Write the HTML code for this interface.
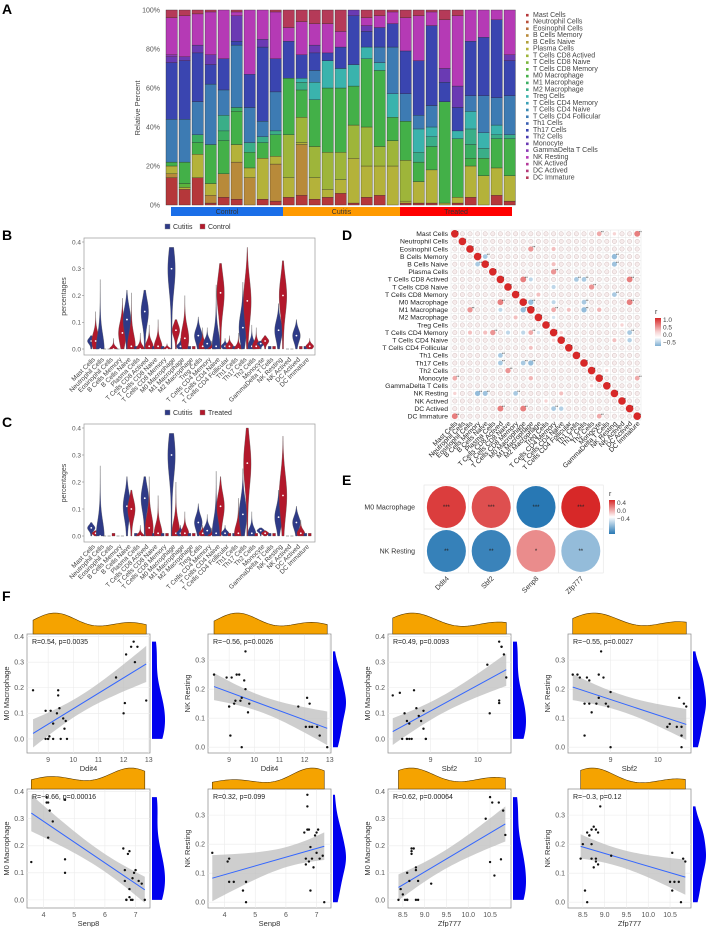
<!DOCTYPE html>
<html><head><meta charset="utf-8"><style>
html,body{margin:0;padding:0;background:#fff;width:708px;height:927px;overflow:hidden}
svg{display:block;font-family:"Liberation Sans",sans-serif}
</style></head><body>
<svg id="fig" width="708" height="927" viewBox="0 0 708 927">
<text x="2" y="14" font-size="14" font-weight="bold">A</text>
<text x="2" y="240" font-size="14" font-weight="bold">B</text>
<text x="2" y="427" font-size="14" font-weight="bold">C</text>
<text x="342" y="240" font-size="14" font-weight="bold">D</text>
<text x="342" y="485" font-size="14" font-weight="bold">E</text>
<text x="2" y="601" font-size="14" font-weight="bold">F</text>
</svg>
<script>
// ---------- DATA ----------
const cellTypes=["Mast Cells","Neutrophil Cells","Eosinophil Cells","B Cells Memory","B Cells Naive","Plasma Cells","T Cells CD8 Actived","T Cells CD8 Naive","T Cells CD8 Memory","M0 Macrophage","M1 Macrophage","M2 Macrophage","Treg Cells","T Cells CD4 Memory","T Cells CD4 Naive","T Cells CD4 Follicular","Th1 Cells","Th17 Cells","Th2 Cells","Monocyte","GammaDelta T Cells","NK Resting","NK Actived","DC Actived","DC Immature"];
const cellColors=["#b5373a","#b8503a","#b5703a","#b88a3a","#b0a03a","#b4b23a","#9eb53a","#7ab53a","#5cb33c","#43b048","#3aae62","#3aae88","#3ab3ad","#3aa0b5","#3a8ab5","#3d7bb3","#3a5fb2","#3a45b0","#483ab0","#6a3ab3","#8a3ab5","#b53ab5","#b53a9a","#b53a7a","#b53a58"];
const groupNames=["Control","Cutitis","Treated"];
const groupSizes=[9,9,9];
const yTicksA=["0%","20%","40%","60%","80%","100%"];
const barValues=[
[14,0,0,2,0,4,0,0,0,2,0,0,0,0,0,22,0,29,0,3,1,19,0,0,4],
[8,0,0,0,0,1,0,0,2,11,0,0,0,0,0,22,0,30,0,2,0,21,0,0,3],
[14,0,0,0,0,12,0,0,0,6,4,0,0,0,0,17,0,25,0,4,0,16,0,0,2],
[1,0,0,4,0,6,0,0,0,20,0,0,0,0,0,31,0,10,0,5,0,22,0,0,1],
[4,0,0,12,0,0,0,0,0,17,5,8,0,0,0,13,0,16,0,0,0,25,0,0,0],
[3,0,0,19,0,9,0,0,0,17,2,0,0,0,0,32,0,2,0,13,0,2,0,0,1],
[0,0,0,14,0,5,0,0,0,8,0,5,0,0,0,18,0,17,0,0,0,33,0,0,0],
[3,0,0,0,0,21,0,0,0,8,0,3,0,0,0,8,0,38,0,4,0,15,0,0,0],
[2,0,0,19,0,4,0,0,0,11,0,2,0,0,0,20,0,17,0,0,0,24,0,0,1],
[4,0,0,0,0,10,22,0,0,29,0,0,0,0,0,0,0,19,0,0,0,7,0,0,9],
[5,0,0,26,0,1,13,0,0,14,0,4,2,0,0,0,0,12,0,0,0,17,0,0,6],
[3,0,0,0,0,11,16,0,0,24,0,0,9,0,0,6,0,9,0,4,0,11,0,0,7],
[4,0,0,0,0,4,19,0,0,33,0,0,14,0,0,0,0,4,0,0,0,15,0,0,7],
[6,0,0,0,0,7,14,0,0,33,0,0,10,0,0,0,0,11,0,0,0,8,0,0,11],
[1,0,0,0,0,23,17,0,0,20,0,0,11,0,0,0,0,25,0,3,0,0,0,0,0],
[4,0,0,0,0,16,20,0,0,35,0,0,6,0,0,0,0,8,0,3,0,4,0,0,4],
[5,0,0,0,0,15,10,0,0,39,0,0,4,0,0,8,0,10,0,0,0,6,0,0,3],
[0,0,0,0,0,20,13,0,0,12,0,0,12,0,0,24,0,12,0,0,0,6,0,0,1],
[1,0,0,0,0,1,21,0,0,20,0,0,0,0,0,14,0,22,0,0,0,17,0,0,4],
[1,0,0,0,0,11,0,0,0,10,0,5,12,0,0,7,0,28,0,0,0,23,0,0,3],
[1,0,0,0,0,17,0,0,0,12,0,5,5,0,0,11,0,41,0,0,0,7,0,0,1],
[0,0,0,0,0,1,0,0,0,52,0,0,0,0,0,0,0,10,0,7,0,25,0,0,5],
[1,0,0,0,0,3,0,0,0,30,0,0,4,0,0,0,0,12,0,11,0,36,0,0,3],
[4,0,0,0,0,16,0,0,0,4,7,8,9,0,0,8,0,28,0,0,0,16,0,0,0],
[0,0,0,0,0,15,0,0,0,9,0,5,8,0,0,19,0,30,0,0,0,14,0,0,0],
[5,0,0,0,0,14,0,0,0,15,0,2,5,0,0,14,0,40,0,0,0,5,0,0,0],
[2,0,0,0,0,13,0,0,0,19,0,2,0,0,0,20,0,18,0,3,0,23,0,0,0]];
const cutitisMax=[0.05,0.26,0,0,0.22,0.01,0.22,0.01,0.01,0.38,0.04,0.01,0.12,0.08,0.24,0.04,0.01,0.25,0.09,0.03,0.01,0.17,0,0.11,0.01];
const cutitisMed=[0.03,0,0,0,0.11,0,0.14,0,0,0.30,0.01,0,0.05,0.02,0.01,0.01,0,0.08,0.01,0.02,0,0.07,0,0.05,0];
const controlMax=[0.14,0,0.04,0.19,0.21,0.06,0.09,0.11,0.02,0.11,0.20,0.01,0.08,0.03,0.32,0.05,0.06,0.38,0.08,0.05,0.01,0.33,0,0.01,0.04];
const controlMed=[0.03,0,0,0.06,0.01,0,0.01,0.01,0,0.07,0.04,0,0.01,0,0.21,0.01,0,0.18,0.01,0.03,0,0.20,0,0,0.01];
const treatedMax=[0.02,0,0.01,0,0.17,0.04,0.22,0.15,0.01,0.20,0.09,0.01,0.04,0.03,0.22,0.01,0.14,0.40,0.01,0.02,0.01,0.37,0,0.06,0.01];
const treatedMed=[0.01,0,0,0,0.10,0,0.03,0.01,0,0.01,0.01,0,0.01,0,0.11,0,0.01,0.27,0,0.01,0,0.15,0,0.01,0];
const violinTicks=[0,0.1,0.2,0.3,0.4];
const corrPairs=[[0,24,0.6],[0,19,0.4],[0,21,0.2],[2,10,0.5],[2,13,0.3],[3,4,-0.4],[4,21,-0.45],[4,13,0.3],[5,13,0.5],[6,9,0.6],[6,23,0.6],[6,16,-0.4],[6,10,-0.3],[7,18,0.5],[7,13,-0.3],[8,21,-0.4],[8,11,0.3],[9,10,-0.5],[9,23,0.6],[9,17,-0.4],[9,13,-0.3],[10,13,0.4],[10,19,0.35],[11,13,-0.2],[13,14,0.2],[14,21,0.3],[14,23,-0.35],[10,17,-0.5],[6,17,-0.4],[3,21,-0.5],[13,23,-0.4],[15,10,0.3],[18,20,0.2],[19,24,0.4],[12,22,0.2]];
const corrBackground=0.12;
const geneNames=["Ddit4","Sbf2","Senp8","Zfp777"];
const eRows=["M0 Macrophage","NK Resting"];
const eM0=[0.54,0.49,-0.66,0.62];
const eNK=[-0.56,-0.55,0.32,-0.30];
const eM0Stars=["***","***","***","***"];
const eNKStars=["**","**","*","**"];
const ddit4X=[8.4,8.9,8.9,9,9.05,9.1,9.2,9.2,9.4,9.4,9.45,9.5,9.6,9.65,9.7,9.75,11.7,12,12.05,12.1,12.3,12.4,12.45,12.55,12.9,9.0,9.35];
const ddit4M0=[0.19,0.11,0,0,0.01,0.11,0.06,0,0.19,0.17,0.12,0,0.08,0.04,0.07,0,0.24,0.1,0.14,0.33,0.36,0.38,0.3,0.36,0.15,0,0.1];
const ddit4X2=[8.4,8.9,9,9.05,9.1,9.2,9.25,9.4,9.45,9.5,9.5,9.6,9.65,9.65,9.75,9.8,11.75,12.05,12.1,12.2,12.3,12.5,12.6,12.9,9.0,9.3,12.2];
const ddit4NK=[0.25,0.24,0.14,0.04,0.24,0.15,0.16,0.25,0.16,0,0.17,0.23,0.33,0.2,0.12,0.15,0.14,0.07,0.17,0.15,0.07,0.07,0.04,0,0.14,0.25,0.07];
const sbf2X=[8.2,8.35,8.4,8.5,8.5,8.55,8.6,8.65,8.7,8.75,8.8,8.85,8.85,8.9,8.9,8.45,8.5,10.2,10.25,10.45,10.45,10.45,10.5,10.5,10.55,10.6,8.55];
const sbf2M0=[0.17,0.18,0,0.07,0,0.06,0,0.19,0.12,0.09,0.07,0.11,0.04,0,0,0.1,0,0.29,0.1,0.15,0.14,0.38,0.36,0.36,0.33,0.24,0];
const sbf2X2=[8.2,8.35,8.45,8.45,8.5,8.55,8.55,8.6,8.7,8.75,8.75,8.8,8.85,8.9,8.95,9.0,9.0,10.2,10.25,10.45,10.5,10.5,10.5,10.55,10.6,8.3,10.4];
const sbf2NK=[0.25,0.24,0.15,0.04,0.24,0.23,0.15,0.12,0.15,0.25,0.17,0.33,0.24,0.15,0.14,0.19,0,0.07,0.08,0.17,0.07,0.04,0,0.15,0.14,0.25,0.07];
const senp8X=[3.6,4.1,4.1,4.15,4.2,4.3,4.15,4.7,4.7,4.7,6.6,6.65,6.65,6.7,6.75,6.8,6.8,6.8,6.9,6.9,6.95,7.0,7.1,7.2,7.3,6.7,6.85];
const senp8M0=[0.14,0.38,0.36,0.36,0.33,0.29,0.23,0.15,0.1,0.37,0.19,0.07,0.11,0,0.17,0.18,0.04,0.01,0,0.08,0.1,0.11,0.07,0.06,0,0,0];
const senp8X2=[3.6,4.1,4.15,4.15,4.3,4.6,4.7,4.7,6.6,6.65,6.7,6.7,6.7,6.75,6.75,6.8,6.8,6.85,6.9,6.95,7.0,7.05,7.1,7.2,7.25,6.65,7.0];
const senp8NK=[0.17,0.14,0.15,0.07,0.07,0.04,0,0.07,0.24,0.15,0.37,0.33,0.25,0.25,0.14,0.04,0.19,0.15,0.12,0.23,0.24,0.25,0.15,0.16,0,0.13,0.17];
const zfpX=[8.4,8.45,8.5,8.55,8.6,8.6,8.65,8.7,8.7,8.7,8.75,8.8,8.8,8.85,8.8,9.15,10.4,10.5,10.5,10.55,10.6,10.7,10.75,10.8,10.85,8.85,8.6];
const zfpM0=[0,0.04,0.02,0,0.1,0,0.07,0.17,0.18,0.19,0.19,0.12,0,0.07,0.11,0.06,0.3,0.38,0.14,0.36,0.09,0.36,0.15,0.33,0.24,0,0];
const zfpX2=[8.45,8.5,8.55,8.6,8.6,8.65,8.7,8.7,8.75,8.75,8.8,8.8,8.85,8.85,8.9,9.15,10.5,10.55,10.55,10.6,10.7,10.75,10.8,10.85,8.7,8.8,8.65];
const zfpNK=[0.15,0.2,0.04,0,0.24,0.23,0.25,0.15,0.26,0.12,0.25,0.14,0.24,0.13,0.33,0.16,0.07,0.04,0.17,0.07,0.07,0,0.15,0.14,0.2,0.15,0.23];
const statLabels=["R=0.54, p=0.0035","R=\u22120.56, p=0.0026","R=0.49, p=0.0093","R=\u22120.55, p=0.0027","R=\u22120.66, p=0.00016","R=0.32, p=0.099","R=0.62, p=0.00064","R=\u22120.3, p=0.12"];

// ---------- HELPERS ----------
const svg=document.getElementById('fig');
const NS='http://www.w3.org/2000/svg';
function mk(tag,attrs,parent){const e=document.createElementNS(NS,tag);for(const k in attrs)e.setAttribute(k,attrs[k]);(parent||svg).appendChild(e);return e;}
function txt(x,y,s,size,parent,extra){const t=mk('text',Object.assign({x:x,y:y,'font-size':size,fill:'#333'},extra||{}),parent);t.textContent=s;return t;}
function lin(d0,d1,r0,r1){return v=>r0+(v-d0)/(d1-d0)*(r1-r0);}

// ---------- PANEL A ----------
(function(){
const g=mk('g',{});


const y=lin(0,100,205,10);
const x0=166,step=13.0,bw=11.4;
yTicksA.forEach((t,i)=>{const e=txt(160,y(i*20)+2.5,t,7,g,{'text-anchor':'end',fill:'#555'});

});
const yl=txt(0,0,'Relative Percent',7.5,g,{transform:'translate(140,108) rotate(-90)','text-anchor':'middle',fill:'#444'});


barValues.forEach((row,i)=>{
 const tot=row.reduce((a,b)=>a+b,0);let acc=0;
 const bg=mk('g',{},g);
 
 
 mk('rect',{x:x0+i*step,y:10,width:bw,height:195,fill:'#fff',stroke:'#ccc','stroke-width':0.4},bg);
 row.forEach((v,k)=>{ if(v<=0)return; const yy0=y(acc/tot*100); acc+=v; const yy1=y(acc/tot*100);
  const r=mk('rect',{x:x0+i*step,y:yy1,width:bw,height:yy0-yy1,fill:cellColors[k],stroke:'#222','stroke-width':0.3},bg);
  
  });
});
const gcol=["#1a6ee8","#ff9a00","#ff0000"];let start=0;
groupNames.forEach((n,i)=>{const xa=x0+start*step+5,xb=x0+(start+groupSizes[i])*step+(i==2?-5:0);start+=groupSizes[i];
 const rx=i==0?171:xa-5, rw=i==0?xb-171:xb-xa+5;
 const r=mk('rect',{x:rx,y:207,width:rw,height:9,fill:gcol[i]},g);
 
 
 const t=txt(rx+rw/2,214,n,7,g,{'text-anchor':'middle',fill:'#333'});
 
 });
cellTypes.forEach((n,k)=>{const yy=16.5+k*6.77;
 const s=mk('rect',{x:526,y:yy-2.6,width:2.6,height:2.6,fill:cellColors[k]},g);
 
 
 const t=txt(533,yy+0.3,n,7,g,{fill:'#444'});
 
 });
})();

// ---------- VIOLINS B & C ----------
function violinPanel(top,bot,legTxt,otherMax,otherMed,name){
 const g=mk('g',{});
 
 
 const fx0=84,fx1=315;
 const y=lin(0,0.4,bot-6,top+4);
 mk('rect',{x:fx0,y:top,width:fx1-fx0,height:bot-top,fill:'#fff',stroke:'#999','stroke-width':0.7},g);
 violinTicks.forEach(v=>{const t=txt(fx0-3,y(v)+2.3,v.toFixed(1),6.5,g,{'text-anchor':'end',fill:'#555'});
  
  
  mk('line',{x1:fx0-2,x2:fx0,y1:y(v),y2:y(v),stroke:'#777','stroke-width':0.5},g);});
 const yl=txt(0,0,'percentages',7,g,{transform:`translate(66,${(top+bot)/2}) rotate(-90)`,'text-anchor':'middle',fill:'#444'});
 
 
 const cw=(fx1-fx0-8)/25;
 const cx=k=>fx0+5+cw*(k+0.5);
 function violin(xc,mx,md,col,nm){
  const pts=[],N=24;const s=Math.max(mx*0.3,0.008);
  for(let i=0;i<=N;i++){const v=mx*i/N;let w=3.6*Math.exp(-Math.pow((v-md)/s,2))+0.5*(1-i/N);if(mx<0.015)w=1.5;pts.push([v,w]);}
  let d='';pts.forEach((p,i)=>{d+=(i?'L':'M')+(xc-p[1]).toFixed(2)+','+y(p[0]).toFixed(2);});
  for(let i=pts.length-1;i>=0;i--)d+='L'+(xc+pts[i][1]).toFixed(2)+','+y(pts[i][0]).toFixed(2);
  const p=mk('path',{d:d+'Z',fill:col,stroke:'#555','stroke-width':0.3},g);
  
  
  if(mx>0.015){const c=mk('circle',{cx:xc,cy:y(md),r:0.9,fill:'#fff'},g);
  
  }
 }
 cellTypes.forEach((n,k)=>{
  violin(cx(k)-2.2,cutitisMax[k],cutitisMed[k],'#2e3a87','violin-cutitis');
  violin(cx(k)+2.2,otherMax[k],otherMed[k],'#b2182b','violin-'+legTxt.toLowerCase());
  const t=txt(0,0,n,6.5,g,{transform:`translate(${cx(k)+2},${bot+5}) rotate(-45)`,'text-anchor':'end',fill:'#444'});
  
  
 });
 const ly=top-9;
 const s1=mk('rect',{x:165,y:ly-5,width:5,height:5,fill:'#2e3a87',stroke:'#888','stroke-width':0.4},g);
 
 
 const t1=txt(173,ly,'Cutitis',7,g);
 
 
 const s2=mk('rect',{x:200,y:ly-5,width:5,height:5,fill:'#b2182b',stroke:'#888','stroke-width':0.4},g);
 
 
 const t2=txt(208,ly,legTxt,7,g);
 
 
}
violinPanel(238,355,'Control',controlMax,controlMed,'violin-chart-control');
violinPanel(424,542,'Treated',treatedMax,treatedMed,'violin-chart-treated');

function rColor(r,lim){const t=Math.max(-1,Math.min(1,r/lim));
 if(t>=0){const a=[255,255,255],b=[215,40,40];return `rgb(${a.map((v,i)=>Math.round(v+(b[i]-v)*t)).join(',')})`;}
 const a=[255,255,255],b=[40,120,180];const u=-t;return `rgb(${a.map((v,i)=>Math.round(v+(b[i]-v)*u)).join(',')})`;}

// ---------- PANEL D ----------
(function(){
 const g=mk('g',{});
 
 
 const gx=451,gy=230,cs=7.6,n=25;
 const M=[];for(let i=0;i<n;i++){M.push([]);for(let j=0;j<n;j++)M[i].push(i==j?1:corrBackground);}
 corrPairs.forEach(p=>{M[p[0]][p[1]]=p[2];M[p[1]][p[0]]=p[2];});
 for(let i=0;i<=n;i++){mk('line',{x1:gx,x2:gx+n*cs,y1:gy+i*cs,y2:gy+i*cs,stroke:'#ddd','stroke-width':0.4},g);
  mk('line',{y1:gy,y2:gy+n*cs,x1:gx+i*cs,x2:gx+i*cs,stroke:'#ddd','stroke-width':0.4},g);}
 for(let i=0;i<n;i++)for(let j=0;j<n;j++){const r=M[i][j];const weak=Math.abs(r)<0.2;
  const c=mk('circle',{cx:gx+(j+0.5)*cs,cy:gy+(i+0.5)*cs,r:weak?2.2:Math.sqrt(Math.abs(r))*cs*0.5,fill:weak?'#f6ecec':rColor(r,1),stroke:weak?'#c8b0b0':'none','stroke-width':0.4},g);
  
  
  if(Math.abs(r)>=0.4){const s=txt(gx+(j+0.9)*cs,gy+(i+0.45)*cs,i==j?'*':'**',4,g,{'text-anchor':'middle',fill:'#222'});
   
   }
 }
 cellTypes.forEach((nm,k)=>{
  const t=txt(gx-3,gy+(k+0.5)*cs+2.3,nm,6.8,g,{'text-anchor':'end',fill:'#222'});
  
  
  const c=txt(0,0,nm,6.8,g,{transform:`translate(${gx+(k+0.5)*cs+3},${gy+n*cs+4}) rotate(-45)`,'text-anchor':'end',fill:'#222'});
  
  });
 const defs=mk('defs',{},g);
 const lg=mk('linearGradient',{id:'gD',x1:0,y1:0,x2:0,y2:1},defs);
 [[0,rColor(1,1)],[0.5,rColor(0.2,1)],[0.7,'#fff'],[1,rColor(-0.6,1)]].forEach(s=>mk('stop',{offset:s[0],'stop-color':s[1]},lg));
 const lr=mk('rect',{x:655,y:318,width:6,height:28,fill:'url(#gD)'},g);
 
 
 txt(655,314,'r',7,g);
 ['1.0','0.5','0.0','\u22120.5'].forEach((s,i)=>{const t=txt(663,322+i*7.5,s,6.5,g,{fill:'#444'});
  
  });
})();

// ---------- PANEL E ----------
(function(){
 const g=mk('g',{});
 
 
 const gx=424,gy=485,cw=44.8,ch=44;
 mk('rect',{x:gx,y:gy,width:cw*4,height:ch*2,fill:'#fff',stroke:'#ddd','stroke-width':0.5},g);
 for(let i=1;i<4;i++)mk('line',{x1:gx+i*cw,x2:gx+i*cw,y1:gy,y2:gy+2*ch,stroke:'#ddd','stroke-width':0.5},g);
 mk('line',{x1:gx,x2:gx+4*cw,y1:gy+ch,y2:gy+ch,stroke:'#ddd','stroke-width':0.5},g);
 [eM0,eNK].forEach((row,i)=>{row.forEach((r,j)=>{
  const c=mk('ellipse',{cx:gx+(j+0.5)*cw,cy:gy+(i+0.5)*ch,rx:19.5,ry:21,fill:rColor(r,0.6)},g);
  
  
  const s=txt(gx+(j+0.5)*cw,gy+(i+0.5)*ch+2,(i?eNKStars:eM0Stars)[j],6,g,{'text-anchor':'middle',fill:'#222'});
  
  });
  const t=txt(gx-9,gy+(i+0.5)*ch+2.5,eRows[i],7,g,{'text-anchor':'end',fill:'#333'});
  
  });
 geneNames.forEach((n,j)=>{const t=txt(0,0,n,7,g,{transform:`translate(${gx+(j+0.5)*cw+3},${gy+2*ch+6}) rotate(-45)`,'text-anchor':'end',fill:'#333'});
  
  });
 const defs=mk('defs',{},g);
 const lg=mk('linearGradient',{id:'gE',x1:0,y1:0,x2:0,y2:1},defs);
 [[0,rColor(0.6,0.6)],[0.5,'#fff'],[1,rColor(-0.6,0.6)]].forEach(s=>mk('stop',{offset:s[0],'stop-color':s[1]},lg));
 const lr=mk('rect',{x:609,y:500,width:6,height:34,fill:'url(#gE)'},g);
 
 
 txt(609,496,'r',7,g);
 ['0.4','0.0','\u22120.4'].forEach((s,i)=>{const t=txt(617,505+i*8,s,6.5,g,{fill:'#444'});
  
  });
})();

// ---------- PANEL F ----------
function kde(data,at){const n=data.length;const m=data.reduce((a,b)=>a+b,0)/n;const sd=Math.sqrt(data.reduce((a,b)=>a+(b-m)*(b-m),0)/(n-1));const h=1.06*sd*Math.pow(n,-0.2);
 return at.map(v=>data.reduce((a,d)=>a+Math.exp(-0.5*Math.pow((v-d)/h,2)),0)/(n*h));}
function scatter(X,Y,xd,yd,xTicks,yTicks,xLab,yLab,stat,px,py,name,dec){
 const g=mk('g',{});
 
 
 const w=123,h=119;
 const x=lin(xd[0],xd[1],px,px+w),y=lin(yd[0],yd[1],py+h,py);
 mk('rect',{x:px,y:py,width:w,height:h,fill:'#fff',stroke:'#888','stroke-width':0.7},g);
 xTicks.forEach(v=>{mk('line',{x1:x(v),x2:x(v),y1:py,y2:py+h,stroke:'#ebebeb','stroke-width':0.6},g);
  const t=txt(x(v),py+h+9,dec?v.toFixed(1):String(v),7,g,{'text-anchor':'middle',fill:'#555'});
  
  });
 yTicks.forEach(v=>{mk('line',{y1:y(v),y2:y(v),x1:px,x2:px+w,stroke:'#ebebeb','stroke-width':0.6},g);
  const t=txt(px-3,y(v)+2.4,v.toFixed(1),7,g,{'text-anchor':'end',fill:'#555'});
  
  });
 const n=X.length,mx=X.reduce((a,b)=>a+b,0)/n,my=Y.reduce((a,b)=>a+b,0)/n;
 let sxx=0,sxy=0;X.forEach((v,i)=>{sxx+=(v-mx)**2;sxy+=(v-mx)*(Y[i]-my);});
 const b=sxy/sxx,a=my-b*mx;let sse=0;X.forEach((v,i)=>{sse+=(Y[i]-a-b*v)**2;});const se=Math.sqrt(sse/(n-2));
 const xmin=Math.min(...X),xmax=Math.max(...X);const up=[],lo=[];
 for(let i=0;i<=30;i++){const v=xmin+(xmax-xmin)*i/30;const f=a+b*v;const e=2.06*se*Math.sqrt(1/n+(v-mx)**2/sxx);up.push([x(v),y(f+e)]);lo.push([x(v),y(f-e)]);}
 const band=mk('path',{d:'M'+up.map(p=>p.join(',')).join('L')+'L'+lo.reverse().map(p=>p.join(',')).join('L')+'Z',fill:'#bdbdbd','fill-opacity':0.75},g);
 
 
 const ln=mk('line',{x1:x(xmin),y1:y(a+b*xmin),x2:x(xmax),y2:y(a+b*xmax),stroke:'#3366ff','stroke-width':1},g);
 
 
 X.forEach((v,i)=>{const c=mk('circle',{cx:x(v),cy:y(Y[i]),r:1.2,fill:'#111'},g);
  
  });
 const st=txt(px+5,py+10,stat,7,g,{fill:'#222'});
 
 
 const xl=txt(px+w/2,py+h+18,xLab,7.5,g,{'text-anchor':'middle',fill:'#333'});
 
 
 const yl=txt(0,0,yLab,7.5,g,{transform:`translate(${px-18},${py+h/2}) rotate(-90)`,'text-anchor':'middle',fill:'#333'});
 
 
 const xs=[];for(let i=0;i<=50;i++)xs.push(xmin+(xmax-xmin)*i/50);
 const dx=kde(X,xs),dmx=Math.max(...dx);
 let d='M'+x(xmin)+','+py;xs.forEach((v,i)=>{d+='L'+x(v).toFixed(2)+','+(py-2-dx[i]/dmx*19).toFixed(2);});d+='L'+x(xmax)+','+py+'Z';
 const td=mk('path',{d:d,fill:'#f5a300',stroke:'#5a3a00','stroke-width':0.6},g);
 
 
 const ymin=Math.min(...Y),ymax=Math.max(...Y);const ys=[];for(let i=0;i<=50;i++)ys.push(ymin+(ymax-ymin)*i/50);
 const dy=kde(Y,ys),dmy=Math.max(...dy);
 let d2='M'+(px+w+2)+','+y(ymin);ys.forEach((v,i)=>{d2+='L'+(px+w+2+dy[i]/dmy*13).toFixed(2)+','+y(v).toFixed(2);});d2+='L'+(px+w+2)+','+y(ymax)+'Z';
 const rd=mk('path',{d:d2,fill:'#0000ee'},g);
 
 
}
const M0d=[-0.055,0.41],NKd=[-0.02,0.39];
const colsX=[27,208,388,568],rowsY=[634,789];
scatter(ddit4X,ddit4M0,[8.16,13.05],M0d,[9,10,11,12,13],[0,0.1,0.2,0.3,0.4],'Ddit4','M0 Macrophage',statLabels[0],colsX[0],rowsY[0],'scatter-ddit4-m0');
scatter(ddit4X2,ddit4NK,[8.16,13.05],NKd,[9,10,11,12,13],[0,0.1,0.2,0.3],'Ddit4','NK Resting',statLabels[1],colsX[1],rowsY[0],'scatter-ddit4-nk');
scatter(sbf2X,sbf2M0,[8.1,10.7],M0d,[9,10],[0,0.1,0.2,0.3,0.4],'Sbf2','M0 Macrophage',statLabels[2],colsX[2],rowsY[0],'scatter-sbf2-m0');
scatter(sbf2X2,sbf2NK,[8.1,10.7],NKd,[9,10],[0,0.1,0.2,0.3],'Sbf2','NK Resting',statLabels[3],colsX[3],rowsY[0],'scatter-sbf2-nk');
scatter(senp8X,senp8M0,[3.46,7.47],[-0.03,0.41],[4,5,6,7],[0,0.1,0.2,0.3,0.4],'Senp8','M0 Macrophage',statLabels[4],colsX[0],rowsY[1],'scatter-senp8-m0');
scatter(senp8X2,senp8NK,[3.46,7.47],NKd,[4,5,6,7],[0,0.1,0.2,0.3],'Senp8','NK Resting',statLabels[5],colsX[1],rowsY[1],'scatter-senp8-nk');
scatter(zfpX,zfpM0,[8.16,10.98],[-0.03,0.41],[8.5,9.0,9.5,10.0,10.5],[0,0.1,0.2,0.3,0.4],'Zfp777','M0 Macrophage',statLabels[6],colsX[2],rowsY[1],'scatter-zfp777-m0',true);
scatter(zfpX2,zfpNK,[8.16,10.98],NKd,[8.5,9.0,9.5,10.0,10.5],[0,0.1,0.2,0.3],'Zfp777','NK Resting',statLabels[7],colsX[3],rowsY[1],'scatter-zfp777-nk',true);
</script>
</body></html>
